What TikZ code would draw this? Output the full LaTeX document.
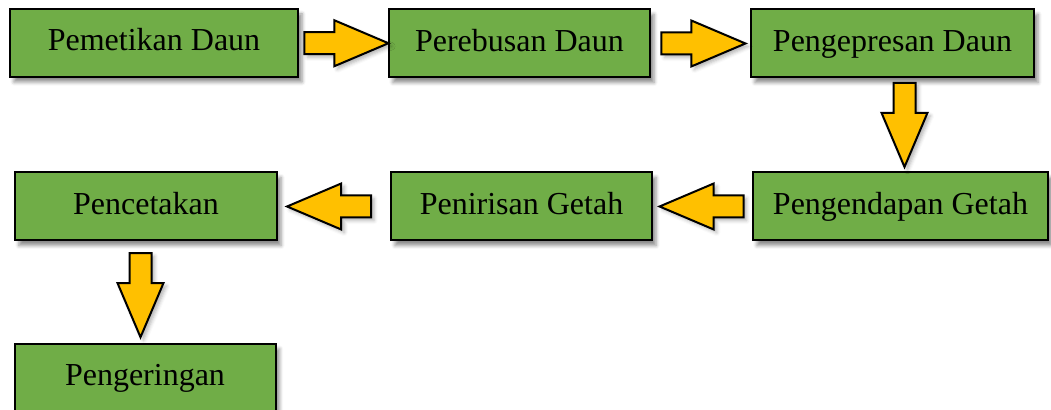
\documentclass[tikz,border=0pt]{standalone}
\usepackage{fontspec}
\setmainfont{Liberation Serif}
\usetikzlibrary{shapes.arrows,shadows.blur}
\definecolor{daun}{HTML}{70AD47}
\definecolor{getah}{HTML}{FFC000}
\begin{document}
\begin{tikzpicture}[x=0.5pt, y=-0.5pt,
  every node/.style={font=\fontsize{16}{18}\selectfont},
  tahap/.style={draw, line width=1pt, fill=daun, minimum height=34pt,
    minimum width=130.5pt, inner sep=0pt, text height=11pt, text depth=3pt,
    blur shadow={shadow xshift=2pt, shadow yshift=-2.5pt, shadow opacity=45}},
  panah/.style={single arrow, draw, line width=1pt, fill=getah,
    minimum height=42pt, inner sep=5pt, single arrow head extend=6pt,
    single arrow tip angle=46, single arrow head indent=0pt,
    blur shadow={shadow xshift=1.5pt, shadow yshift=-1.5pt, shadow opacity=30}}
]
  \clip (0,0) rectangle (1051,410);
  \useasboundingbox (0,0) rectangle (1051,410);

  % baris atas
  \node[tahap, minimum width=144pt] (petik) at (154,43) {Pemetikan Daun};
  \node[tahap] (rebus) at (519.5,43.5) {Perebusan Daun};
  \node[tahap, minimum width=141.5pt] (pres) at (892.5,43.5) {Pengepresan Daun};
  % baris tengah
  \node[tahap, minimum width=147.5pt] (endap) at (900.5,206.5) {Pengendapan Getah};
  \node[tahap] (tiris) at (521.5,206.5) {Penirisan Getah};
  \node[tahap, minimum width=131pt] (cetak) at (146,206.5) {Pencetakan};
  % baris bawah
  \node[tahap] (kering) at (145,378) {Pengeringan};

  \path (petik.east) -- (rebus.west)
    node[panah, midway, xshift=-5pt] (p1) {};
  \path (rebus.east) -- (pres.west)
    node[panah, midway, xshift=-5pt] (p2) {};
  \path (pres.south) -- (endap.north)
    node[panah, midway, xshift=4pt, yshift=6.5pt, shape border rotate=270] (p3) {};
  \path (endap.west) -- (tiris.east)
    node[panah, midway, xshift=6pt, shape border rotate=180] (p4) {};
  \path (tiris.west) -- (cetak.east)
    node[panah, midway, xshift=4pt, shape border rotate=180] (p5) {};
  \path (cetak.south) -- (kering.north)
    node[panah, midway, xshift=-2.5pt, yshift=5pt, shape border rotate=270] (p6) {};
\end{tikzpicture}
\end{document}
